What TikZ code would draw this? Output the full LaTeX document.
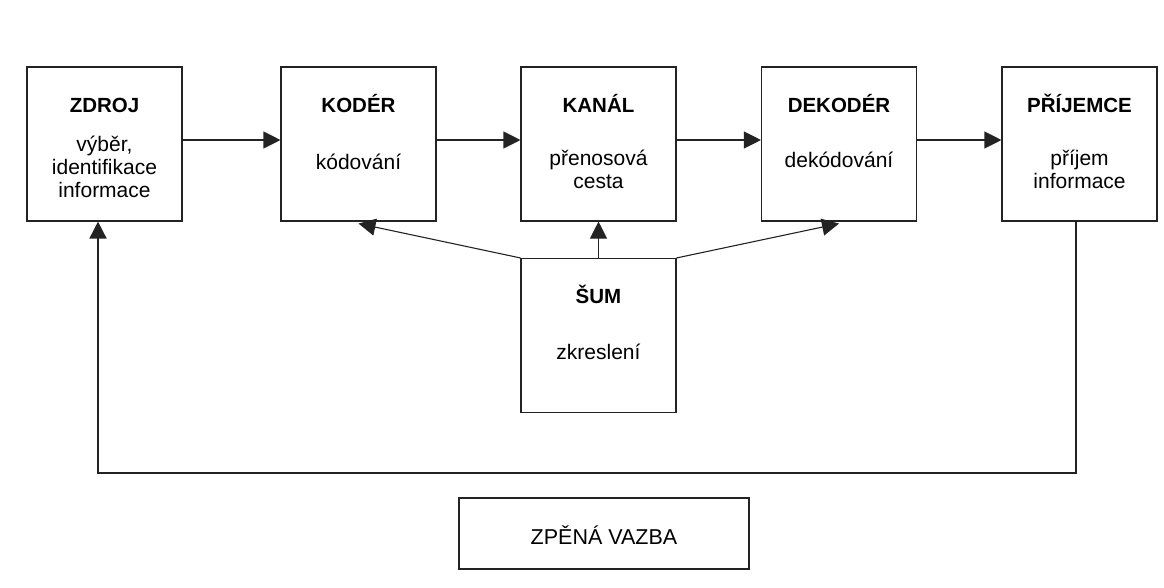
\documentclass[tikz,border=0pt]{standalone}
\usepackage{fontspec}
\setmainfont{Liberation Sans}
\usepackage{xcolor}
\usepackage{tikz}
\usetikzlibrary{arrows.meta}
\definecolor{CaraSchema}{RGB}{35,35,35}

\begin{document}
\begin{tikzpicture}[x=1pt,y=-1pt,>={Triangle[length=17pt,width=17pt]},
  blok/.style={draw=CaraSchema,line width=1.1pt,minimum width=155pt,minimum height=154pt,inner sep=0pt},
  titul/.style={font=\bfseries\fontsize{20.5}{24}\selectfont,anchor=base,inner sep=0pt},
  popis/.style={font=\fontsize{21}{23}\selectfont,align=center,anchor=base,inner sep=0pt},
  sipka/.style={->,line width=1.1pt,CaraSchema}]
  \useasboundingbox (0,0) rectangle (1164,587);
  \node[blok] (zdroj) at (104.5,144) {};
  \node[blok] (koder) at (358.5,144) {};
  \node[blok] (kanal) at (598.5,144) {};
  \node[blok] (dekoder) at (839,144) {};
  \node[blok] (prijemce) at (1079.5,144) {};
  \node[blok] (sum) at (598.5,335.5) {};
  \node[blok,minimum width=290pt,minimum height=71pt] (vazba) at (604,533.5) {};
  \node[titul] (zdroj-t) at (104.5,112) {ZDROJ};
  \node[popis] (zdroj-p) at (104.5,197) {výběr,\\identifikace\\informace};
  \node[titul] (koder-t) at (358.5,112) {KODÉR};
  \node[popis] (koder-p) at (358.5,169) {kódování};
  \node[titul] (kanal-t) at (598.5,112) {KANÁL};
  \node[popis] (kanal-p) at (598.5,188) {přenosová\\cesta};
  \node[titul] (dekoder-t) at (839,112) {DEKODÉR};
  \node[popis] (dekoder-p) at (839,167) {dekódování};
  \node[titul] (prijemce-t) at (1079.5,112) {PŘÍJEMCE};
  \node[popis] (prijemce-p) at (1079.5,188) {příjem\\informace};
  \node[titul] (sum-t) at (598.5,303) {ŠUM};
  \node[popis] (sum-p) at (598.5,359) {zkreslení};
  \node[popis,font=\fontsize{21.5}{24}\selectfont] (vazba-t) at (604,544) {ZPĚNÁ VAZBA};
  \draw[sipka] ([yshift=4pt]zdroj.east) -- ([yshift=4pt]koder.west);
  \draw[sipka] ([yshift=4pt]koder.east) -- ([yshift=4pt]kanal.west);
  \draw[sipka] ([yshift=4pt]kanal.east) -- ([yshift=4pt]dekoder.west);
  \draw[sipka] ([yshift=4pt]dekoder.east) -- ([yshift=4pt]prijemce.west);
  \draw[sipka] (sum.north west) -- ([yshift=-2pt]koder.south);
  \draw[sipka] (sum.north) -- (kanal.south);
  \draw[sipka] (sum.north east) -- ([yshift=-2pt]dekoder.south);
  \coordinate (ohyb-p) at (1076,473);
  \coordinate (ohyb-z) at (98,473);
  \draw[sipka,line width=1.6pt] (prijemce.south -| ohyb-p) -- (ohyb-p) -- (ohyb-z) -- (zdroj.south -| ohyb-z);
\end{tikzpicture}
\end{document}
